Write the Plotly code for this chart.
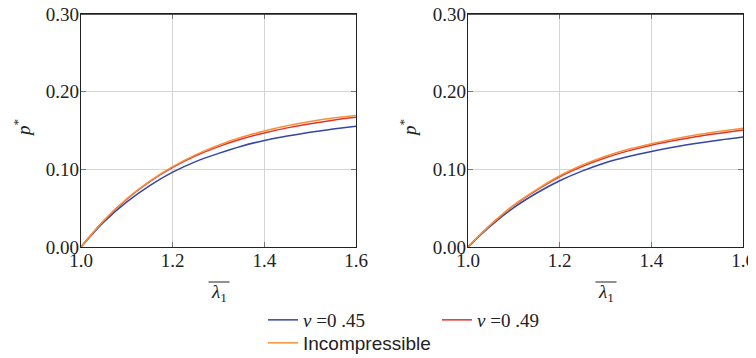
import plotly.graph_objects as go

W, H = 756, 358
OFF = 8  # page body margin offset: figure coords = reference pixel - OFF

lam = [1.0, 1.05, 1.1, 1.15, 1.2, 1.25, 1.3, 1.35, 1.4, 1.45, 1.5, 1.55, 1.6]

left_nu45 = [0, 0.0323, 0.058, 0.079, 0.0963, 0.110, 0.1205, 0.1298, 0.1372, 0.1428, 0.1478, 0.1518, 0.1555]
left_nu49 = [0, 0.0340, 0.0617, 0.0842, 0.1025, 0.1173, 0.1293, 0.1390, 0.1468, 0.1534, 0.1588, 0.1633, 0.1669]
left_inc = [0, 0.0342, 0.0621, 0.0849, 0.1035, 0.1187, 0.1311, 0.1412, 0.1494, 0.1561, 0.1616, 0.1661, 0.1694]

right_nu45 = [0, 0.0275, 0.0507, 0.0695, 0.0853, 0.0980, 0.1085, 0.1165, 0.1230, 0.1287, 0.1335, 0.1377, 0.1415]
right_nu49 = [0, 0.0288, 0.0535, 0.0733, 0.0905, 0.1040, 0.1150, 0.1238, 0.1310, 0.1370, 0.1422, 0.1466, 0.1508]
right_inc = [0, 0.0290, 0.0540, 0.0740, 0.0917, 0.1055, 0.1168, 0.1258, 0.1329, 0.1392, 0.1445, 0.1490, 0.1530]

x_ticks = [1.0, 1.2, 1.4, 1.6]
y_ticks = [0.0, 0.1, 0.2, 0.3]

names = ["<i>ν</i> =0 .45", "<i>ν</i> =0 .49", "Incompressible"]
colors = ["#3446a6", "#e3342a", "#f4913c"]
legends = ["legend", "legend", "legend2"]


def px(x):  # reference pixel column -> paper fraction
    return (x - OFF) / W


def py(y):  # reference pixel row -> paper fraction
    return 1 - (y - OFF) / H


fig = go.Figure()
for (xa, ya, series, show) in [("x", "y", [left_nu45, left_nu49, left_inc], True),
                               ("x2", "y2", [right_nu45, right_nu49, right_inc], False)]:
    for s, nm, c, lg in zip(series, names, colors, legends):
        fig.add_trace(go.Scatter(x=lam, y=s, mode="lines", name=nm,
                                 line=dict(color=c, width=1.5, shape="spline"),
                                 xaxis=xa, yaxis=ya, showlegend=show, legend=lg))

serif = "Liberation Serif"
axis_common = dict(showline=True, linecolor="#222", linewidth=1.3, mirror="allticks",
                   ticks="inside", ticklen=5, tickcolor="#777", tickwidth=1,
                   showgrid=True, gridcolor="#d4d4d4", gridwidth=1, zeroline=False,
                   automargin=False, ticklabeloverflow="allow",
                   tickfont=dict(family=serif, size=19, color="#222"))
xaxis_extra = dict(ticklabelstandoff=-4)
yaxis_extra = dict(ticklabelstandoff=-3)

yd = [py(247), py(14)]
fig.update_layout(
    template="none",
    width=W, height=H, margin=dict(l=0, r=0, t=0, b=0, pad=0),
    paper_bgcolor="white", plot_bgcolor="white",
    xaxis=dict(domain=[px(81), px(356)], range=[1, 1.6], tickvals=x_ticks, tickformat=".1f", anchor="y",
               **axis_common, **xaxis_extra),
    yaxis=dict(domain=yd, range=[0, 0.3], tickvals=y_ticks, tickformat=".2f", anchor="x",
               **axis_common, **yaxis_extra),
    xaxis2=dict(domain=[px(468), px(743)], range=[1, 1.6], tickvals=x_ticks, tickformat=".1f", anchor="y2",
                **axis_common, **xaxis_extra),
    yaxis2=dict(domain=yd, range=[0, 0.3], tickvals=y_ticks, tickformat=".2f", anchor="x2",
                **axis_common, **yaxis_extra),
    legend=dict(orientation="h", x=px(263), y=py(320), xanchor="left", yanchor="middle",
                font=dict(family=serif, size=19, color="#222"), entrywidth=129, entrywidthmode="pixels",
                bgcolor="rgba(0,0,0,0)", borderwidth=0, itemwidth=30),
    legend2=dict(orientation="h", x=px(263), y=py(343), xanchor="left", yanchor="middle",
                 font=dict(family="Liberation Sans", size=19, color="#222"),
                 bgcolor="rgba(0,0,0,0)", borderwidth=0, itemwidth=30),
    showlegend=True,
)

# top frame edge of each panel
for xr, yr in [("x", "y"), ("x2", "y2")]:
    fig.add_shape(type="line", xref=xr + " domain", yref=yr + " domain", x0=0, x1=1, y0=1, y1=1,
                  line=dict(color="#222", width=1.3), layer="above")

for cx in [22, 408]:
    fig.add_annotation(x=px(cx), y=py(128), xref="paper", yref="paper", showarrow=False,
                       xanchor="center", yanchor="middle",
                       text="<i>p</i><sup>*</sup>", textangle=-90,
                       font=dict(family=serif, size=19, color="#222"))
for cx in [218.5, 605.5]:
    fig.add_annotation(x=px(cx), y=py(293), xref="paper", yref="paper", showarrow=False,
                       xanchor="center", yanchor="middle",
                       text="<i>λ</i><sub>1</sub>",
                       font=dict(family=serif, size=19, color="#222"))
    fig.add_shape(type="line", xref="paper", yref="paper",
                  x0=px(cx - 10), x1=px(cx + 11), y0=py(282), y1=py(282),
                  line=dict(color="#222", width=1))

fig.write_html("out.html")
